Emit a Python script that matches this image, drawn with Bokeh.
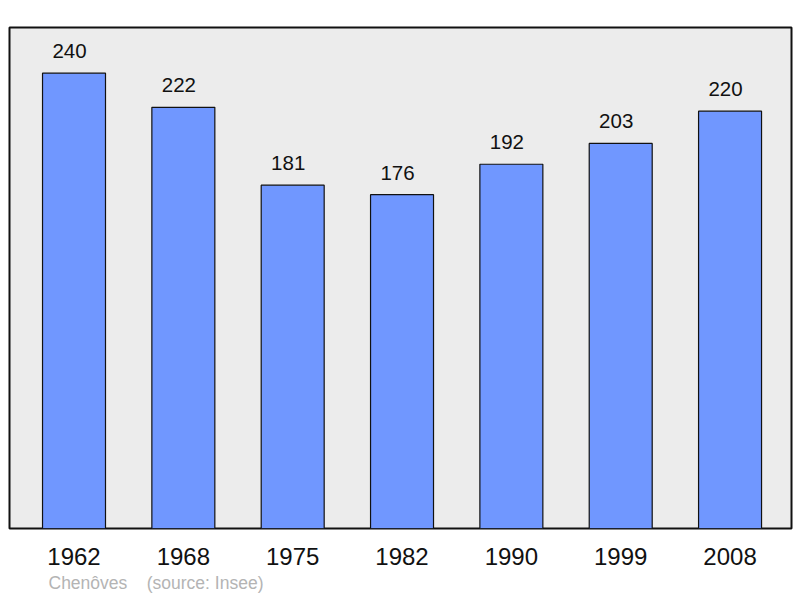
from bokeh.plotting import figure
from bokeh.models import Range1d, FixedTicker, Title, ColumnDataSource
from bokeh.embed import file_html
from bokeh.resources import INLINE

years = ["1962", "1968", "1975", "1982", "1990", "1999", "2008"]
population = [240, 222, 181, 176, 192, 203, 220]
footer_text = "Chenôves    (source: Insee)"

xs = list(range(len(years)))
src = ColumnDataSource(dict(x=xs, top=population, lbl=[str(v) for v in population]))

p = figure(width=800, height=598, output_backend="svg", toolbar_location=None,
           x_range=Range1d(-0.59, 6.562), y_range=Range1d(0, 264.1),
           min_border_left=9, min_border_right=9, min_border_top=27, min_border_bottom=70)
p.background_fill_color = "#ececec"
p.border_fill_color = "white"
p.outline_line_color = "#111111"
p.outline_line_width = 2
p.grid.visible = False
p.yaxis.visible = False

p.vbar(x="x", top="top", width=0.576, bottom=0, source=src,
       fill_color="#7097ff", line_color="#111111", line_width=1.2)
p.text(x="x", y="top", text="lbl", source=src, y_offset=-15, x_offset=-4.5,
       text_align="center", text_baseline="bottom",
       text_font_size="20.5px", text_font={"value": "Liberation Sans"}, text_color="#111111")

ax = p.xaxis[0]
ax.ticker = FixedTicker(ticks=xs)
ax.major_label_overrides = {i: y for i, y in enumerate(years)}
ax.axis_line_color = None
ax.major_tick_line_color = None
ax.minor_tick_line_color = None
ax.major_label_standoff = 13
ax.major_label_text_font_size = "24px"
ax.major_label_text_font = "Liberation Sans"
ax.major_label_text_color = "#111111"

footer = Title(text=footer_text.replace(" ", "\u00a0"), align="left", offset=39, standoff=6,
               text_font_size="17.5px", text_font="Liberation Sans",
               text_font_style="normal", text_color="#b4b4b4")
p.add_layout(footer, "below")

open("out.html", "w").write(file_html(p, INLINE))
